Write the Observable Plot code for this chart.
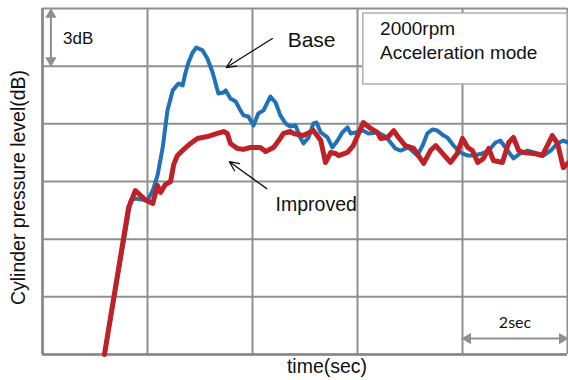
<!DOCTYPE html>
<html>
<head>
<meta charset="utf-8">
<script src="https://cdn.jsdelivr.net/npm/d3@7"></script>
<script src="https://cdn.jsdelivr.net/npm/@observablehq/plot@0.6"></script>
<style>
  html, body { margin: 0; padding: 0; background: #fff; }
  svg { display: block; }
</style>
</head>
<body>
<div id="chart"></div>
<script>
// Time axis (sec) and level axis (dB) grid values
const xGrid = [0, 2, 4, 6, 8, 10];
const yGrid = [0, 3, 6, 9, 12, 15, 18];

// Improved (red)
const redT = [1.18,1.64,1.77,1.87,1.98,2.10,2.15,2.19,2.25,2.34,2.44,2.50,2.57,2.69,2.82,2.95,3.14,3.33,3.45,3.52,3.58,3.71,3.83,3.96,4.15,4.25,4.40,4.50,4.59,4.72,4.78,4.97,5.16,5.30,5.39,5.49,5.58,5.64,5.81,5.92,6.11,6.25,6.38,6.44,6.57,6.69,6.78,6.91,7.07,7.26,7.39,7.49,7.62,7.77,7.90,8.00,8.10,8.19,8.29,8.40,8.50,8.59,8.76,8.88,8.97,9.07,9.16,9.35,9.52,9.71,9.81,9.92,10.0];
const redDb = [0,7.65,8.53,8.27,8.01,7.86,8.38,8.79,8.43,8.84,9.00,9.89,10.35,10.67,10.98,11.24,11.34,11.50,11.60,11.50,10.98,10.72,10.67,10.77,10.77,10.56,10.77,11.13,11.50,11.60,11.50,11.39,11.65,11.13,9.99,10.51,10.46,10.35,10.51,10.87,12.07,11.76,11.55,11.24,11.29,11.65,11.29,10.87,10.72,9.94,10.61,10.87,10.46,9.99,10.46,11.24,10.77,10.61,9.99,10.20,10.72,10.09,9.99,11.03,11.29,10.61,10.51,10.46,10.35,11.39,10.98,9.72,9.94];

// Base (blue)
const blueT = [1.18,1.68,1.77,2.00,2.10,2.19,2.29,2.38,2.48,2.59,2.67,2.72,2.78,2.86,2.93,3.05,3.14,3.24,3.35,3.45,3.49,3.58,3.68,3.77,3.83,3.92,4.02,4.11,4.21,4.34,4.44,4.53,4.63,4.72,4.82,4.91,4.97,5.07,5.16,5.22,5.30,5.43,5.52,5.62,5.71,5.81,5.87,5.96,6.10,6.21,6.38,6.50,6.57,6.72,6.82,6.97,7.14,7.24,7.33,7.43,7.52,7.64,7.71,7.83,7.96,8.10,8.21,8.38,8.50,8.63,8.72,8.86,8.97,9.10,9.24,9.43,9.54,9.68,9.81,9.92,10.0];
const blueDb = [0,8.01,8.12,8.01,8.53,9.31,10.77,12.70,13.74,14.10,14.00,14.62,15.19,15.71,15.97,15.82,15.40,14.67,13.58,13.63,13.74,13.32,13.16,12.70,12.44,12.38,11.91,12.54,12.70,13.42,13.11,12.44,12.02,11.86,11.91,11.29,10.98,11.29,12.02,12.07,11.55,11.29,10.77,11.13,11.55,11.81,11.50,11.55,11.65,11.50,11.55,11.39,11.24,10.72,10.61,10.77,10.35,10.87,11.50,11.71,11.65,11.39,11.29,10.87,10.51,10.35,10.35,10.46,10.61,11.03,11.13,10.61,10.20,10.46,10.61,10.46,10.35,10.61,10.98,11.13,11.03];

// Texts
const yLabel = "Cylinder pressure level(dB)";
const xLabel = "time(sec)";
const boxLines = ["2000rpm", "Acceleration mode"];

const red = redT.map((t, i) => ({t, v: redDb[i]}));
const blue = blueT.map((t, i) => ({t, v: blueDb[i]}));

const gray = "#8f8f8f";
const font = "'Liberation Sans', Arial, sans-serif";

const chart = Plot.plot({
  width: 568,
  height: 380,
  marginLeft: 42,
  marginRight: 1,
  marginTop: 8,
  marginBottom: 26,
  x: {domain: [0, 10], axis: null},
  y: {domain: [0, 18], axis: null},
  style: {fontFamily: font, background: "#fff", overflow: "visible"},
  marks: [
    Plot.ruleX(xGrid, {stroke: gray, strokeWidth: 2}),
    Plot.ruleY(yGrid, {stroke: gray, strokeWidth: 2}),
    Plot.ruleX([0], {stroke: "#888", strokeWidth: 2.5}),
    Plot.ruleY([0], {stroke: "#888", strokeWidth: 2.5}),
    // legend box
    Plot.rect([{x1: 6.11, x2: 10.0, y1: 14.05, y2: 17.74}], {x1: "x1", x2: "x2", y1: "y1", y2: "y2", fill: "#fff", stroke: "#b0b0b0", strokeWidth: 1.5}),
    Plot.text([boxLines[0]], {x: 6.43, y: 16.6, text: d => d, textAnchor: "start", lineAnchor: "bottom", fontSize: 19, fill: "#111"}),
    Plot.text([boxLines[1]], {x: 6.43, y: 15.35, text: d => d, textAnchor: "start", lineAnchor: "bottom", fontSize: 19, fill: "#111"}),
    // 3dB annotation
    Plot.link([{x: 0.16, y1: 17.69, y2: 15.3}], {x: "x", y1: "y1", y2: "y2", stroke: gray, strokeWidth: 2}),
    Plot.dot([{x: 0.16, y: 17.69, r: 0}, {x: 0.16, y: 15.3, r: 180}], {x: "x", y: "y", rotate: "r", symbol: "triangle", r: 4.2, fill: gray, stroke: "none"}),
    Plot.text(["3dB"], {x: 0.39, y: 16.45, text: d => d, textAnchor: "start", fontSize: 17, fill: "#111"}),
    // 2sec annotation
    Plot.link([{x1: 8.1, x2: 9.9, y: 0.83}], {x1: "x1", x2: "x2", y1: "y", y2: "y", stroke: gray, strokeWidth: 2}),
    Plot.dot([{x: 8.1, y: 0.83, r: -90}, {x: 9.9, y: 0.83, r: 90}], {x: "x", y: "y", rotate: "r", symbol: "triangle", r: 4.2, fill: gray, stroke: "none"}),
    Plot.text(["2sec"], {x: 9.0, y: 1.4, text: d => d, textAnchor: "middle", lineAnchor: "bottom", fontSize: 16, fontFamily: "Lato, 'Open Sans', sans-serif", fill: "#111"}),
    // series
    Plot.line(blue, {x: "t", y: "v", stroke: "#1f72b8", strokeWidth: 4, strokeLinejoin: "round", strokeLinecap: "round"}),
    Plot.line(red, {x: "t", y: "v", stroke: "#be2227", strokeWidth: 5, strokeLinejoin: "round", strokeLinecap: "round"}),
    // callouts
    Plot.arrow([{x1: 4.38, y1: 16.44, x2: 3.50, y2: 14.93}], {x1: "x1", y1: "y1", x2: "x2", y2: "y2", stroke: "#111", strokeWidth: 1.3, headLength: 12, headAngle: 50}),
    Plot.text(["Base"], {x: 4.67, y: 16.0, text: d => d, textAnchor: "start", lineAnchor: "bottom", fontSize: 21, fill: "#111"}),
    Plot.arrow([{x1: 4.27, y1: 8.63, x2: 3.56, y2: 10.03}], {x1: "x1", y1: "y1", x2: "x2", y2: "y2", stroke: "#111", strokeWidth: 1.3, headLength: 12, headAngle: 50}),
    Plot.text(["Improved"], {x: 4.44, y: 7.45, text: d => d, textAnchor: "start", lineAnchor: "bottom", fontSize: 19.5, fill: "#111"}),
    // axis labels
    Plot.text([yLabel], {frameAnchor: "left", textAnchor: "middle", lineAnchor: "middle", dx: -24, dy: 6, rotate: -90, text: d => d, fontSize: 19.5, fill: "#111"}),
    Plot.text([xLabel], {frameAnchor: "bottom", textAnchor: "middle", dx: 22, dy: 18, text: d => d, fontSize: 19.5, fill: "#111"})
  ]
});
document.getElementById("chart").appendChild(chart);
</script>
</body>
</html>
